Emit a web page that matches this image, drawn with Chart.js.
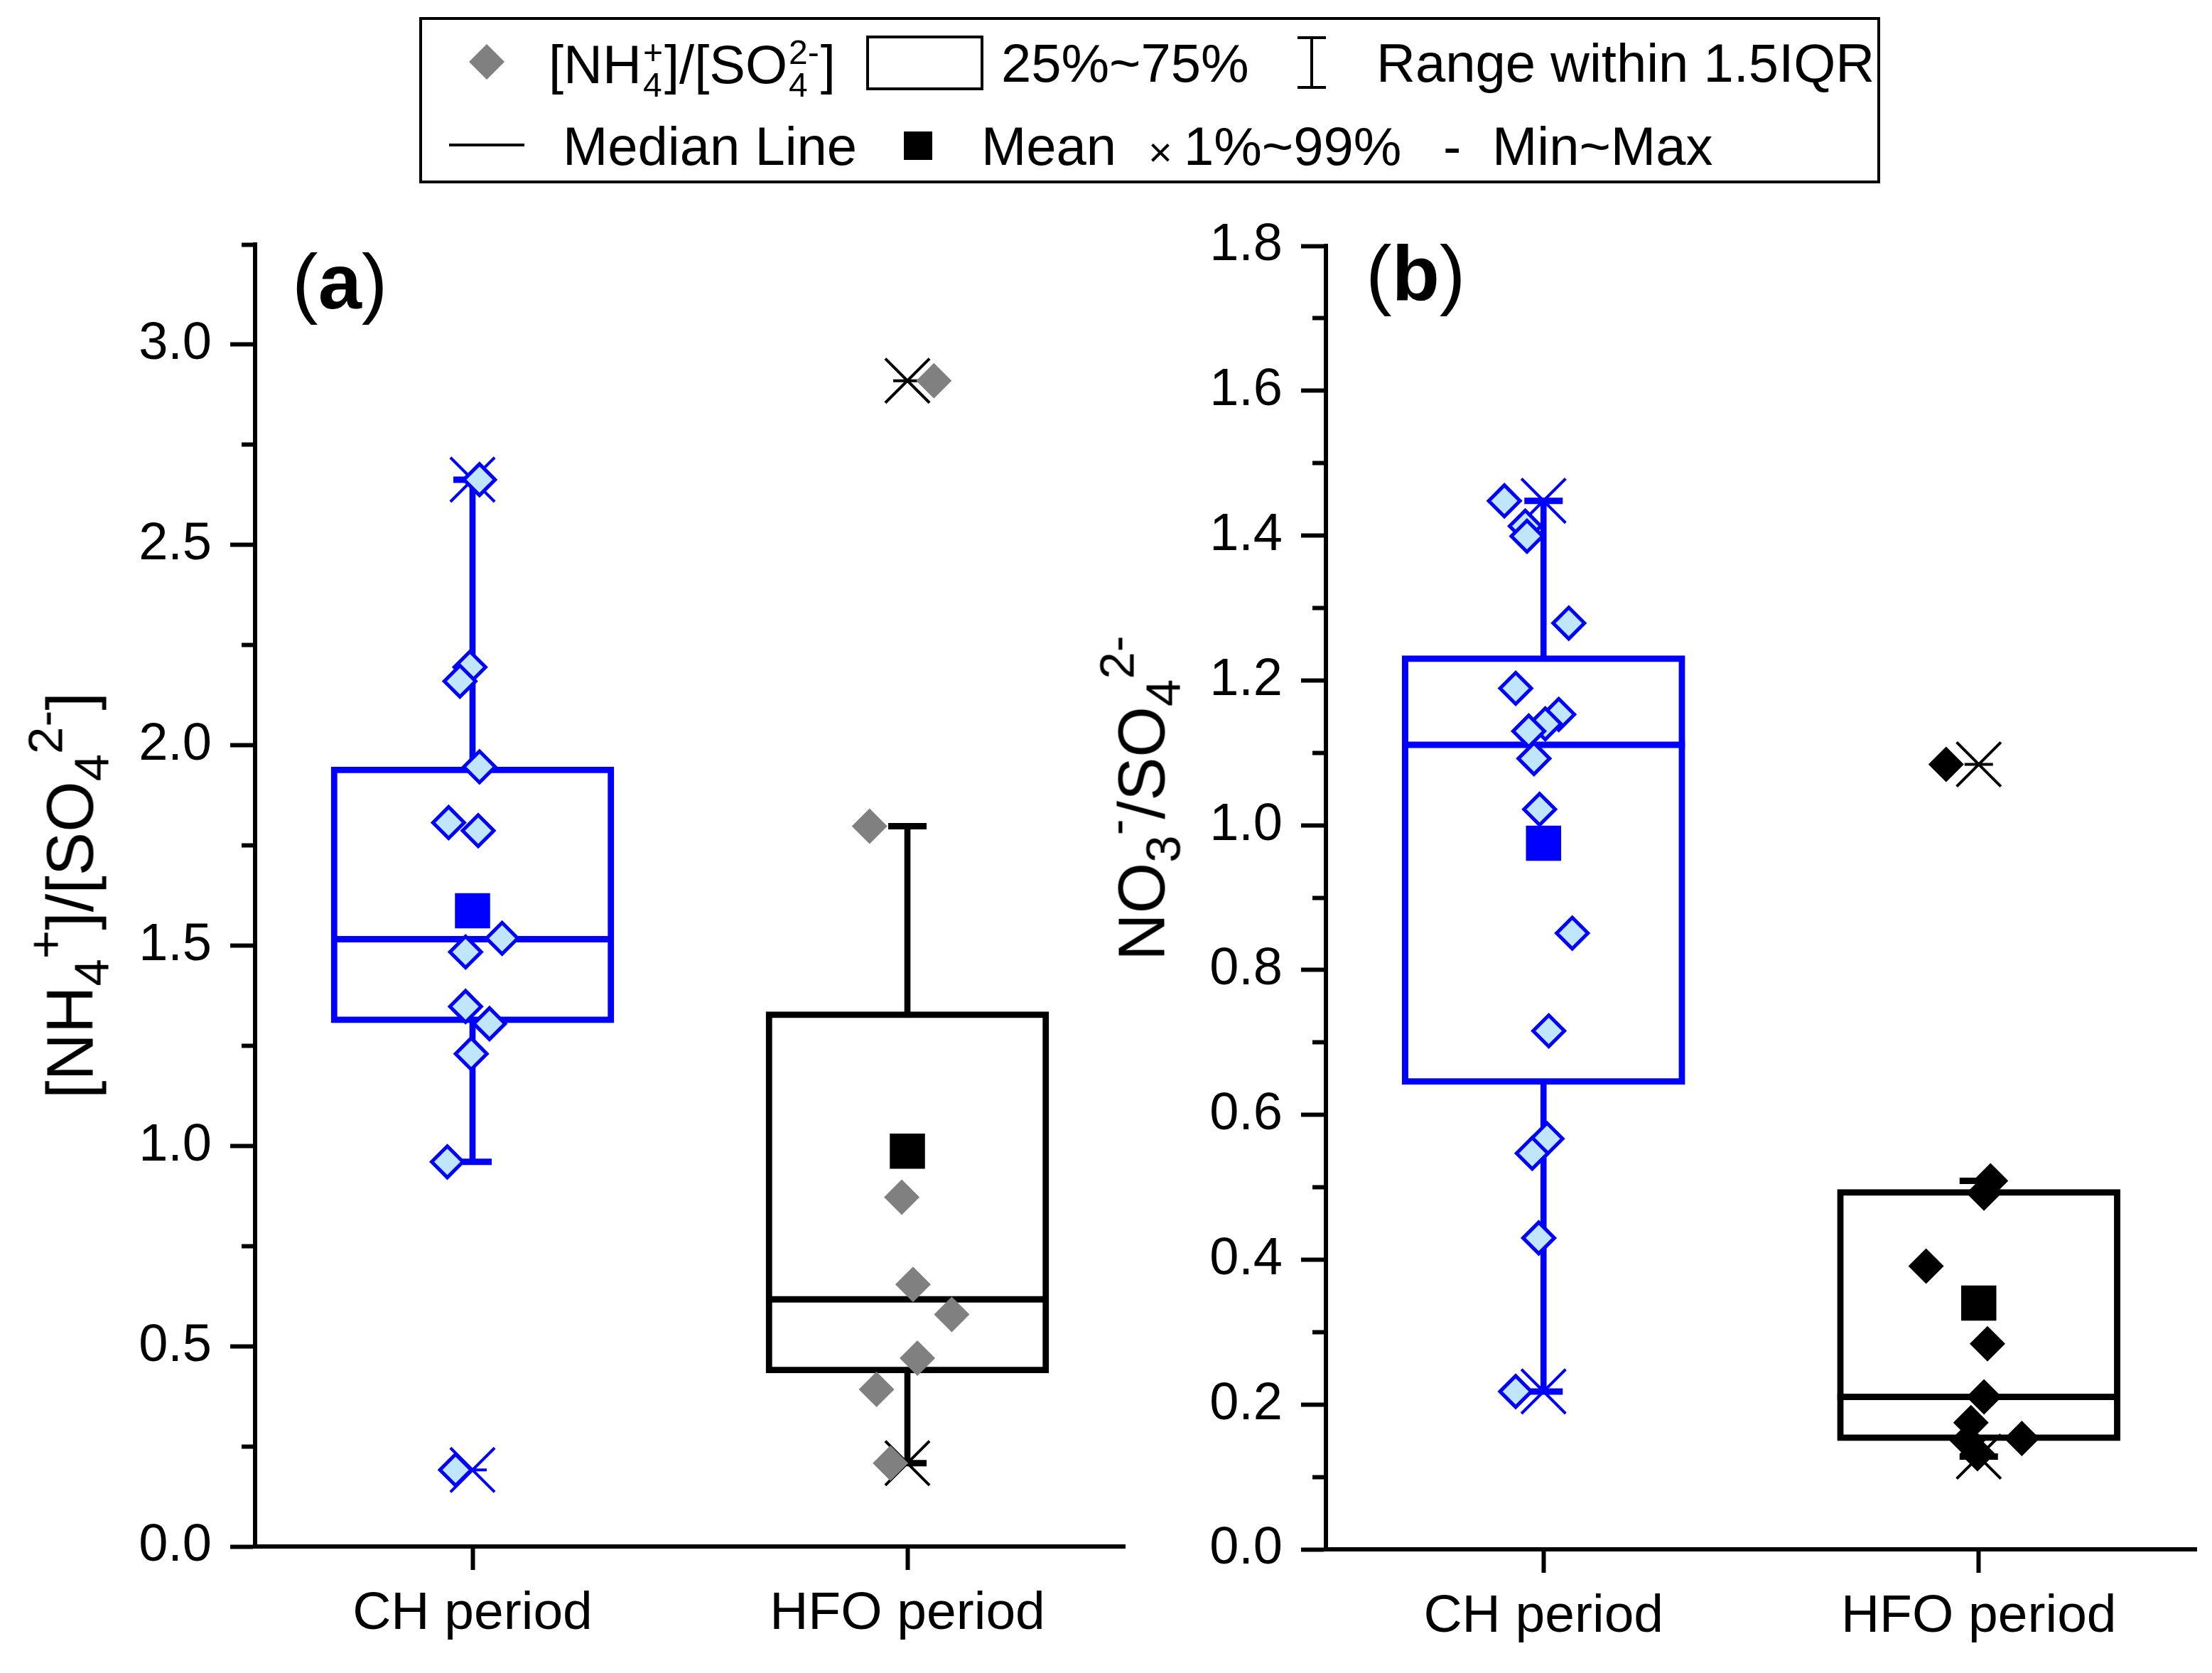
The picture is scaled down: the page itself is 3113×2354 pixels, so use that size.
<!DOCTYPE html>
<html>
<head>
<meta charset="utf-8">
<script src="https://cdn.jsdelivr.net/npm/chart.js@4.4.1/dist/chart.umd.min.js"></script>
<style>
  html, body { margin: 0; padding: 0; background: #fff; }
  body { width: 3113px; height: 2354px; position: relative; overflow: hidden;
         font-family: "Liberation Sans", Arial, sans-serif; color: #000; }
  .abs { position: absolute; white-space: nowrap; }
  .lg { font-size: 76px; line-height: 76px; }
  .stk { display: inline-flex; flex-direction: column; vertical-align: middle;
         font-size: 48px; line-height: 46px; text-align: left; margin: 0 2px; }
  .ytitle { position: absolute; white-space: nowrap; font-size: 92px; line-height: 92px;
            transform: translate(-50%, -50%) rotate(-90deg); }
  .sb { font-size: 75%; position: relative; top: 0.32em; }
  .sp { font-size: 75%; position: relative; top: -0.62em; }
  .plabel { font-size: 110px; line-height: 110px; }
  #wa { position: absolute; left: 0; top: 244px; }
  #wb { position: absolute; left: 1600px; top: 246px; }
</style>
</head>
<body>
<canvas id="wa" width="1600" height="2110"></canvas>
<canvas id="wb" width="1513" height="2108"></canvas>

<!-- Legend -->
<div class="abs" style="left:590px;top:24px;width:2056px;height:234px;border:4px solid #000;box-sizing:border-box;"></div>
<svg class="abs" style="left:660px;top:62px" width="50" height="50"><polygon points="25,0 50,25 25,50 0,25" fill="#808080"/></svg>
<div class="abs lg" style="left:772px;top:51px">[NH<span class="stk"><span>+</span><span>4</span></span>]/[SO<span class="stk"><span>2-</span><span>4</span></span>]</div>
<div class="abs" style="left:1219px;top:50px;width:165px;height:77px;border:4px solid #000;box-sizing:border-box;"></div>
<div class="abs lg" style="left:1409px;top:51px">25%~75%</div>
<svg class="abs" style="left:1824px;top:50px" width="44" height="76"><path d="M2 3 H42 M22 3 V73 M2 73 H42" stroke="#000" stroke-width="4" fill="none"/></svg>
<div class="abs lg" style="left:1937px;top:51px">Range within 1.5IQR</div>
<div class="abs" style="left:632px;top:202px;width:106px;height:4px;background:#000"></div>
<div class="abs lg" style="left:792px;top:168px">Median Line</div>
<div class="abs" style="left:1272px;top:185px;width:40px;height:40px;background:#000"></div>
<div class="abs lg" style="left:1381px;top:168px">Mean</div>
<div class="abs" style="left:1616px;top:185px;font-size:58px;line-height:58px">×</div>
<div class="abs lg" style="left:1666px;top:168px">1%~99%</div>
<div class="abs lg" style="left:2031px;top:168px">-</div>
<div class="abs lg" style="left:2100px;top:168px">Min~Max</div>

<!-- Axis titles and panel labels -->
<div class="ytitle" style="left:103px;top:1260px">[NH<span class="sb">4</span><span class="sp">+</span>]/[SO<span class="sb">4</span><span class="sp">2-</span>]</div>
<div class="ytitle" style="left:1611px;top:1123px">NO<span class="sb">3</span><span class="sp">-</span>/SO<span class="sb">4</span><span class="sp">2-</span></div>
<div class="abs plabel" style="left:411px;top:341px">(<b>a</b>)</div>
<div class="abs plabel" style="left:1922px;top:329px">(<b>b</b>)</div>

<script>
// ---------------- DATA ----------------
const categories = ['CH period', 'HFO period'];

// Panel (a): [NH4+]/[SO4 2-]
const aChValues  = [2.663, 2.195, 2.160, 1.946, 1.807, 1.787, 1.518, 1.484, 1.348, 1.305, 1.230, 0.960, 0.191];
const aChJitter  = [0.016, -0.006, -0.029, 0.016, -0.055, 0.013, 0.068, -0.016, -0.016, 0.039, -0.003, -0.058, -0.039];
const aHfoValues = [2.910, 1.798, 0.872, 0.654, 0.579, 0.470, 0.392, 0.208];
const aHfoJitter = [0.061, -0.087, -0.013, 0.013, 0.102, 0.023, -0.071, -0.039];
// box statistics, [CH, HFO]
const aQ1          = [1.307, 0.433];
const aQ3          = [1.946, 1.335];
const aMedian      = [1.516, 0.617];
const aMean        = [1.587, 0.987];
const aWhiskerLow  = [0.960, 0.208];
const aWhiskerHigh = [2.663, 1.798];
const aP1          = [0.191, 0.208];
const aP99         = [2.663, 2.910];
const aMin         = [0.191, 0.208];
const aMax         = [2.663, 2.910];
const aYTickLabels = ['0.0', '0.5', '1.0', '1.5', '2.0', '2.5', '3.0'];

// Panel (b): NO3-/SO4 2-
const bChValues  = [1.448, 1.413, 1.399, 1.279, 1.189, 1.153, 1.140, 1.130, 1.092, 1.022, 0.851, 0.716, 0.567, 0.547, 0.430, 0.218];
const bChJitter  = [-0.090, -0.042, -0.038, 0.058, -0.064, 0.035, 0.004, -0.034, -0.022, -0.009, 0.066, 0.012, 0.008, -0.026, -0.011, -0.064];
const bHfoValues = [1.084, 0.509, 0.492, 0.391, 0.284, 0.2105, 0.175, 0.153, 0.150, 0.132];
const bHfoJitter = [-0.075, 0.027, 0.012, -0.121, 0.020, 0.012, -0.018, 0.099, -0.026, -0.003];
const bQ1          = [0.642, 0.150];
const bQ3          = [1.234, 0.497];
const bMedian      = [1.111, 0.2105];
const bMean        = [0.975, 0.340];
const bWhiskerLow  = [0.218, 0.128];
const bWhiskerHigh = [1.448, 0.509];
const bP1          = [0.218, 0.128];
const bP99         = [1.448, 1.084];
const bMin         = [0.218, 0.128];
const bMax         = [1.448, 1.084];
const bYTickLabels = ['0.0', '0.2', '0.4', '0.6', '0.8', '1.0', '1.2', '1.4', '1.6', '1.8'];

// ---------------- STYLE ----------------
const BLUE = '#0000FF', BLACK = '#000000', GRAY = '#808080', LIGHT = '#BFE6FD';
const FONT = "'Liberation Sans', Arial, sans-serif";

function perCat(arr) { return arr.map((v, i) => ({ x: i + 1, y: v })); }
function jittered(values, jitter, center) { return values.map((v, i) => ({ x: center + jitter[i], y: v })); }

function makePanel(id, s) {
  const lc = s.lineColors;
  const majors = s.yTickLabels.map(parseFloat);
  const step = majors[1] - majors[0];
  const minors = [];
  majors.forEach(v => { if (v + step / 2 <= s.yMax + 1e-9) minors.push(v + step / 2); });
  const allTicks = majors.concat(minors).sort((a, b) => a - b);
  const isMajor = v => majors.some(m => Math.abs(m - v) < 1e-6);
  const labelFor = v => { const k = majors.findIndex(m => Math.abs(m - v) < 1e-6); return k >= 0 ? s.yTickLabels[k] : ''; };

  const datasets = [
    { type: 'bar', label: 'whisker', data: s.wLow.map((v, i) => ({ x: i + 1, y: [v, s.wHigh[i]] })),
      backgroundColor: lc, borderWidth: 0, barThickness: 8, grouped: false, order: 10 },
    { type: 'bar', label: 'box', data: s.q1.map((v, i) => ({ x: i + 1, y: [v, s.q3[i]] })),
      backgroundColor: '#ffffff', borderColor: lc, borderWidth: 9, borderSkipped: false,
      barThickness: 398, grouped: false, order: 9 },
    { type: 'scatter', label: 'median', data: perCat(s.median), pointStyle: 'line', pointRadius: 199,
      pointBorderColor: lc, pointBorderWidth: 9, order: 8 },
    { type: 'scatter', label: 'caps', data: perCat(s.wLow).concat(perCat(s.wHigh)), pointStyle: 'line',
      pointRadius: 27, pointBorderColor: lc.concat(lc), pointBorderWidth: 9, order: 7 },
    { type: 'scatter', label: 'minmax', data: perCat(s.min).concat(perCat(s.max)), pointStyle: 'line',
      pointRadius: 20, pointBorderColor: lc.concat(lc), pointBorderWidth: 4, order: 6 },
    { type: 'scatter', label: 'p1p99', data: perCat(s.p1).concat(perCat(s.p99)), pointStyle: 'crossRot',
      pointRadius: 44, pointBorderColor: lc.concat(lc), pointBorderWidth: 4, order: 5 },
    { type: 'scatter', label: 'CH', data: jittered(s.chValues, s.chJitter, 1), pointStyle: 'rectRot',
      pointRadius: 22, pointBackgroundColor: LIGHT, pointBorderColor: BLUE, pointBorderWidth: 5, order: 4 },
    { type: 'scatter', label: 'HFO', data: jittered(s.hfoValues, s.hfoJitter, 2), pointStyle: 'rectRot',
      pointRadius: 25, pointBackgroundColor: s.hfoColor, pointBorderColor: s.hfoColor, pointBorderWidth: 0, order: 3 },
    { type: 'scatter', label: 'mean', data: perCat(s.mean), pointStyle: 'rect', pointRadius: 35,
      pointBackgroundColor: lc, pointBorderColor: lc, pointBorderWidth: 0, order: 2 }
  ];

  return new Chart(document.getElementById(id), {
    type: 'bar',
    data: { datasets },
    options: {
      responsive: false, animation: false, devicePixelRatio: 1, events: [],
      layout: { autoPadding: false, padding: { top: s.padTop, right: s.padRight, left: 0, bottom: 0 } },
      plugins: { legend: { display: false }, tooltip: { enabled: false } },
      scales: {
        x: {
          type: 'linear', min: 0.5, max: 2.5, offset: false,
          afterBuildTicks: ax => { ax.ticks = categories.map((c, i) => ({ value: i + 1 })); },
          afterFit: ax => { ax.height = s.xHeight; },
          ticks: { callback: v => categories[Math.round(v) - 1] || '', font: { family: FONT, size: 75 },
                   color: '#000', padding: 17, maxRotation: 0, autoSkip: false },
          grid: { drawOnChartArea: false, drawTicks: true, tickLength: 33, tickWidth: 6, tickColor: '#000', offset: false },
          border: { display: true, width: 6, color: '#000' }
        },
        y: {
          type: 'linear', min: 0, max: s.yMax,
          afterBuildTicks: ax => { ax.ticks = allTicks.map(v => ({ value: v })); },
          afterFit: ax => { ax.width = s.yWidth; },
          ticks: { callback: v => labelFor(v), font: { family: FONT, size: 74 }, color: '#000',
                   padding: 26, autoSkip: false },
          grid: { drawOnChartArea: false, drawTicks: true, tickLength: 35, tickWidth: 6, tickColor: '#000',
                  tickBorderDash: ctx => isMajor(ctx.tick.value) ? [] : [16, 16],
                  tickBorderDashOffset: ctx => isMajor(ctx.tick.value) ? 0 : 16 },
          border: { display: true, width: 6, color: '#000' }
        }
      }
    }
  });
}

makePanel('wa', {
  lineColors: [BLUE, BLACK], hfoColor: GRAY,
  chValues: aChValues, chJitter: aChJitter, hfoValues: aHfoValues, hfoJitter: aHfoJitter,
  q1: aQ1, q3: aQ3, median: aMedian, mean: aMean, wLow: aWhiskerLow, wHigh: aWhiskerHigh,
  p1: aP1, p99: aP99, min: aMin, max: aMax,
  yTickLabels: aYTickLabels, yMax: 3.25,
  yWidth: 359, padTop: 100, padRight: 17, xHeight: 178
});

makePanel('wb', {
  lineColors: [BLUE, BLACK], hfoColor: BLACK,
  chValues: bChValues, chJitter: bChJitter, hfoValues: bHfoValues, hfoJitter: bHfoJitter,
  q1: bQ1, q3: bQ3, median: bMedian, mean: bMean, wLow: bWhiskerLow, wHigh: bWhiskerHigh,
  p1: bP1, p99: bP99, min: bMin, max: bMax,
  yTickLabels: bYTickLabels, yMax: 1.8,
  yWidth: 266, padTop: 100, padRight: 22, xHeight: 174
});
</script>
</body>
</html>
